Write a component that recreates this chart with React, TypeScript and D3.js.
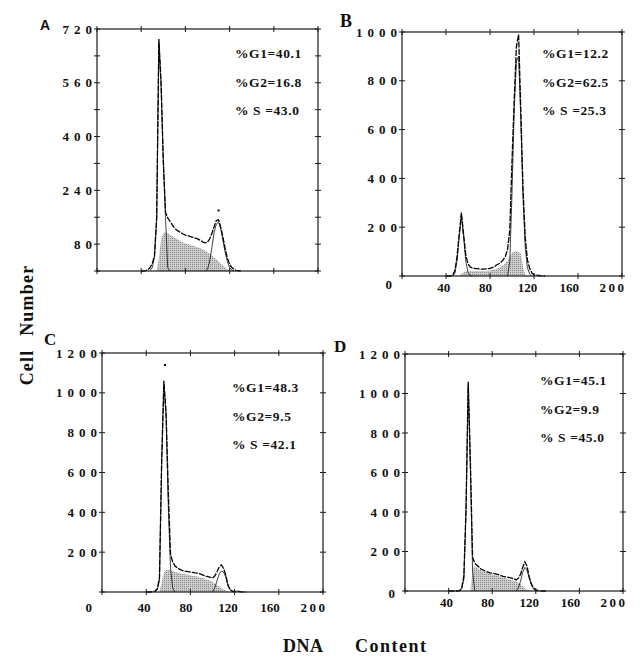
import React from "react";
import * as d3 from "d3";

// DNA content channels (bin centres)
const dnaBins = [40,42,44,46,48,50,52,54,56,58,60,62,64,66,68,70,72,74,76,78,80,82,84,86,88,90,92,94,96,98,100,102,104,106,108,110,112,114,116,118,120,122,124,126,128,130];

// Panel A
const totalA = [0,0,1,4,10,22,45,160,690,560, 330,175,158,148,138,128,122,118,114,110, 107,105,103,101,99,97,94,90,86,84, 86,96,112,132,150,152,130,100,66,38, 20,10,5,2,1,0];
const sPhaseA = [0,0,0,0,0,0,0,0,40,95, 112,115,112,108,104,100,96,92,88,85, 82,80,78,76,74,72,70,67,64,60, 56,52,46,40,34,28,22,16,10,5, 2,0,0,0,0,0];
const g1FitA = [[48,2],[50,10],[52,40],[54,150],[56,680],[58,550],[60,320],[62,160],[64,10],[66,0]];
const g2FitA = [[98,0],[100,5],[102,30],[104,70],[106,115],[108,140],[110,145],[112,125],[114,90],[116,55],[118,28],[120,10],[122,3],[124,0]];
const marksA = [[110,180]];
const statsA = ["%G1=40.1", "%G2=16.8", "% S =43.0"];

// Panel B
const totalB = [0,0,0,3,20,78,170,260,170,85, 50,37,33,31,30,29,28,28,29,30, 31,34,38,45,50,56,66,80,110,188, 470,720,940,990,680,360,160,66,33,12, 6,4,3,1,0,0];
const sPhaseB = [0,0,0,0,0,0,0,8,15,18, 20,20,20,20,20,20,20,20,21,22, 23,25,27,30,34,38,44,52,64,82, 95,100,100,98,90,40,6,0,0,0, 0,0,0,0,0,0];
const g1FitB = [[46,0],[48,10],[50,60],[52,160],[54,245],[56,160],[58,60],[60,15],[62,2],[64,0]];
const g2FitB = [[96,0],[98,60],[100,340],[102,680],[104,880],[106,900],[108,640],[110,320],[112,120],[114,35],[116,8],[118,0]];
const marksB: number[][] = [];
const statsB = ["%G1=12.2", "%G2=62.5", "% S =25.3"];

// Panel C
const totalC = [0,0,0,2,5,15,70,660,1060,900, 500,190,150,132,122,115,110,106,104,102, 100,98,96,95,92,88,84,80,77,74, 70,80,100,125,136,118,85,35,12,4, 2,6,3,1,0,0];
const sPhaseC = [0,0,0,0,0,0,0,50,95,110, 112,110,106,102,98,95,92,90,88,86, 84,82,80,78,75,72,68,64,60,56, 50,44,36,28,20,12,6,2,0,0, 0,0,0,0,0,0];
const g1FitC = [[48,0],[50,10],[52,60],[54,640],[56,1040],[58,880],[60,430],[62,120],[64,20],[66,0]];
const g2FitC = [[100,0],[102,20],[104,55],[106,90],[108,105],[110,100],[112,75],[114,32],[116,10],[118,2],[120,0]];
const marksC = [[57,1140]];
const statsC = ["%G1=48.3", "%G2=9.5", "% S =42.1"];

// Panel D
const totalD = [0,0,0,0,0,2,15,75,420,1060, 650,170,140,130,120,110,105,100,96,92, 90,88,85,82,78,74,72,70,68,65, 62,56,65,85,120,148,125,70,35,14, 6,3,1,0,0,0];
const sPhaseD = [0,0,0,0,0,0,0,0,0,0, 0,110,125,118,110,104,99,95,91,87, 84,81,78,75,71,67,64,61,58,55, 52,48,42,34,24,14,6,2,0,0, 0,0,0,0,0,0];
const g1FitD = [[50,0],[52,10],[54,60],[56,400],[58,1040],[60,620],[62,100],[64,0]];
const g2FitD = [[102,0],[104,15],[106,50],[108,95],[110,120],[112,105],[114,65],[116,30],[118,10],[120,2],[122,0]];
const marksD: number[][] = [];
const statsD = ["%G1=45.1", "%G2=9.9", "% S =45.0"];

// Axes
const xDomain = [0, 200];
const xTicks = [0, 40, 80, 120, 160, 200];
const xTickLabels = [40, 80, 120, 160, 200];
const yTicksA = [0, 80, 160, 240, 320, 400, 480, 560, 640, 720];
const yLabelsA = [80, 240, 400, 560, 720];
const yTicksB = [0, 200, 400, 600, 800, 1000];
const yLabelsB = [200, 400, 600, 800, 1000];
const yTicksCD = [0, 200, 400, 600, 800, 1000, 1200];
const yLabelsCD = [200, 400, 600, 800, 1000, 1200];

const SERIF = "'Liberation Serif', 'Times New Roman', serif";

type PanelProps = {
  name: string;
  nameFont: string;
  nameSize: number;
  nameX: number;
  nameY: number;
  left: number; right: number; top: number; bottom: number;
  yMax: number;
  yTicks: number[];
  yLabels: number[];
  showX: boolean;
  xLabelDy: number;
  zeroDy: number | null;
  total: number[];
  sPhase: number[];
  g1: number[][];
  g2: number[][];
  marks: number[][];
  stats: string[];
  statsDx: number;
  statsDy: number;
};

function Panel(p: PanelProps) {
  const x = d3.scaleLinear().domain(xDomain).range([p.left, p.right]);
  const xl = d3.scaleLinear().domain(xDomain).range([p.left, p.right - 11]);
  const y = d3.scaleLinear().domain([0, p.yMax]).range([p.bottom, p.top]);
  const pts = dnaBins.map((d, i) => [d, p.total[i]]);
  const sPts = dnaBins.map((d, i) => [d, p.sPhase[i]]);
  const line = d3.line<number[]>().x((d) => x(d[0])).y((d) => y(d[1]));
  const area = d3.area<number[]>().x((d) => x(d[0])).y0(y(0)).y1((d) => y(d[1]));
  const tk = 3;
  const ls = 5;
  return (
    <g>
      <path d={area(sPts) || ""} fill="url(#stipple)" stroke="none" />
      <path d={line(p.g1) || ""} fill="none" stroke="#111" strokeWidth={0.8} />
      <path d={line(p.g2) || ""} fill="none" stroke="#111" strokeWidth={0.8} />
      <path d={line(pts) || ""} fill="none" stroke="#000" strokeWidth={1.3} strokeDasharray="6 1.2" />
      {p.marks.map((m, i) => (
        <rect key={i} x={x(m[0]) - 1} y={y(m[1]) - 1} width={2} height={2} fill="#000" />
      ))}
      <rect x={p.left} y={p.top} width={p.right - p.left} height={p.bottom - p.top} fill="none" stroke="#1a1a1a" strokeWidth={1.2} />
      {xTicks.map((t) => (
        <g key={"xt" + t}>
          <line x1={x(t)} x2={x(t)} y1={p.bottom - tk} y2={p.bottom + tk} stroke="#1a1a1a" strokeWidth={1} />
          <line x1={x(t)} x2={x(t)} y1={p.top - tk} y2={p.top + tk} stroke="#1a1a1a" strokeWidth={1} />
        </g>
      ))}
      {p.yTicks.map((t) => (
        <g key={"yt" + t}>
          <line x1={p.left - tk} x2={p.left + tk} y1={y(t)} y2={y(t)} stroke="#1a1a1a" strokeWidth={1} />
          <line x1={p.right - tk} x2={p.right + tk} y1={y(t)} y2={y(t)} stroke="#1a1a1a" strokeWidth={1} />
        </g>
      ))}
      {p.yLabels.map((t) => (
        <text key={"yl" + t} x={p.left - 5 + ls} y={y(t)} dy="0.35em" textAnchor="end"
          fontFamily={SERIF} fontWeight="bold" fontSize={13} letterSpacing={ls} fill="#111">
          {t}
        </text>
      ))}
      {p.zeroDy !== null && (
        <text x={p.left - 10} y={p.bottom + p.zeroDy} textAnchor="end"
          fontFamily={SERIF} fontWeight="bold" fontSize={13} fill="#111">0</text>
      )}
      {p.showX && xTickLabels.map((t) => (
        <text key={"xl" + t} x={xl(t) + (t === 200 ? 2 : 0)} y={p.bottom + p.xLabelDy} textAnchor="middle"
          fontFamily={SERIF} fontWeight="bold" fontSize={13} letterSpacing={t === 200 ? 2.5 : 0} fill="#111">
          {t}
        </text>
      ))}
      {p.stats.map((s, i) => (
        <text key={"st" + i} x={p.left + p.statsDx} y={p.top + p.statsDy + i * 28.5}
          fontFamily={SERIF} fontWeight="bold" fontSize={13.5} letterSpacing={0.6} fill="#111" xmlSpace="preserve">
          {s}
        </text>
      ))}
      <text x={p.nameX} y={p.nameY} fontFamily={p.nameFont} fontWeight="bold" fontSize={p.nameSize} fill="#111">
        {p.name}
      </text>
    </g>
  );
}

export default function App() {
  return (
    <svg width={644} height={665} style={{ position: "absolute", left: 0, top: 0, background: "#fff" }}>
      <defs>
        <pattern id="stipple" width={2} height={2} patternUnits="userSpaceOnUse">
          <rect x={0} y={0} width={2} height={2} fill="#cdcdcd" />
          <rect x={0} y={0} width={1} height={1} fill="#8c8c8c" />
        </pattern>
      </defs>
      <rect x={0} y={0} width={644} height={665} fill="#fff" />
      <Panel name="A" nameFont="'Liberation Sans', Arial, sans-serif" nameSize={14} nameX={40} nameY={30}
        left={97} right={318} top={29} bottom={271} yMax={720} yTicks={yTicksA} yLabels={yLabelsA}
        showX={false} xLabelDy={0} zeroDy={null}
        total={totalA} sPhase={sPhaseA} g1={g1FitA} g2={g2FitA} marks={marksA}
        stats={statsA} statsDx={138} statsDy={29} />
      <Panel name="B" nameFont={SERIF} nameSize={18} nameX={340} nameY={27}
        left={402} right={622} top={32} bottom={276} yMax={1000} yTicks={yTicksB} yLabels={yLabelsB}
        showX={true} xLabelDy={16} zeroDy={13}
        total={totalB} sPhase={sPhaseB} g1={g1FitB} g2={g2FitB} marks={marksB}
        stats={statsB} statsDx={140} statsDy={26} />
      <Panel name="C" nameFont={SERIF} nameSize={17} nameX={44} nameY={345}
        left={102} right={323} top={353} bottom={592} yMax={1200} yTicks={yTicksCD} yLabels={yLabelsCD}
        showX={true} xLabelDy={20} zeroDy={20}
        total={totalC} sPhase={sPhaseC} g1={g1FitC} g2={g2FitC} marks={marksC}
        stats={statsC} statsDx={130} statsDy={39} />
      <Panel name="D" nameFont={SERIF} nameSize={17} nameX={334} nameY={352}
        left={405} right={623} top={354} bottom={591} yMax={1200} yTicks={yTicksCD} yLabels={yLabelsCD}
        showX={true} xLabelDy={16} zeroDy={7}
        total={totalD} sPhase={sPhaseD} g1={g1FitD} g2={g2FitD} marks={marksD}
        stats={statsD} statsDx={135} statsDy={31} />
      <text transform="translate(33,325) rotate(-90)" textAnchor="middle" fontFamily={SERIF}
        fontWeight="bold" fontSize={18} letterSpacing={1.2} wordSpacing={8} fill="#111">
        Cell Number
      </text>
      <text x={283} y={652} fontFamily={SERIF} fontWeight="bold" fontSize={18} letterSpacing={0.5} fill="#111">DNA</text>
      <text x={355} y={652} fontFamily={SERIF} fontWeight="bold" fontSize={18} letterSpacing={1.5} fill="#111">Content</text>
    </svg>
  );
}
